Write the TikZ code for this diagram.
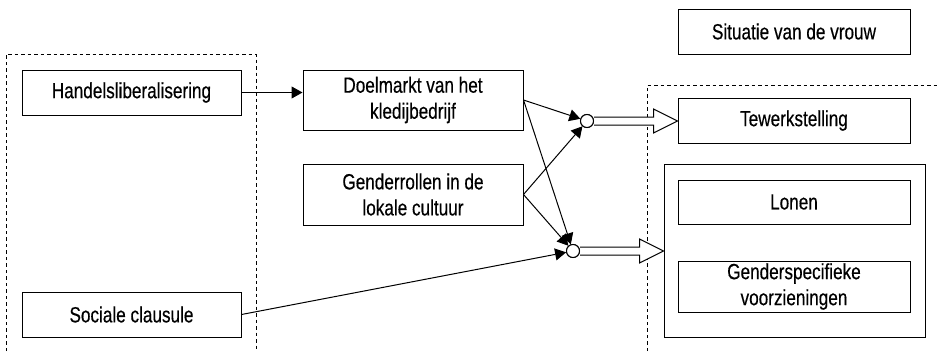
\documentclass[tikz,border=0pt]{standalone}
\usepackage{fontspec}
\setmainfont{Liberation Sans}[FakeStretch=0.78,FakeBold=0.4]
\usetikzlibrary{arrows.meta,calc}

\newcommand{\dubbelpijl}[2]{%
  \draw[line width=1pt,fill=white] let \p1=(#1.east), \p2=(#2) in
    (\x1,\y1+4pt) -- (\x2-24pt,\y1+4pt) -- (\x2-24pt,\y1+12pt) -- (\x2,\y1)
    -- (\x2-24pt,\y1-12pt) -- (\x2-24pt,\y1-4pt) -- (\x1,\y1-4pt);}

\begin{document}
\begin{tikzpicture}[x=1pt,y=-1pt,
  box/.style={draw,line width=1pt,align=center,inner sep=0pt,
    font=\fontsize{22}{26}\selectfont},
  knoop/.style={draw,line width=1pt,fill=white,circle,inner sep=0pt,minimum size=13pt},
  pijl/.style={line width=1pt,-{Triangle[length=11pt,width=12pt]}},
  kader/.style={line width=1pt,dash pattern=on 3.5pt off 3pt}]
  \useasboundingbox (0,0) rectangle (940,351);

  \draw[kader] (6,351) -- (6,54) -- (256,54) -- (256,351);
  \draw[kader] (647,351) -- (647,85) -- (940,85);

  \node[box,minimum width=219pt,minimum height=45pt] (handel) at (131.5,92.5) {Handelsliberalisering};
  \node[box,minimum width=219pt,minimum height=45pt] (sociaal) at (131.5,314.5) {Sociale clausule};
  \node[box,minimum width=220pt,minimum height=60pt] (doel) at (413,100) {Doelmarkt van het\\kledijbedrijf};
  \node[box,minimum width=220pt,minimum height=61pt] (gender) at (413,194.5) {Genderrollen in de\\lokale cultuur};

  \node[box,minimum width=232pt,minimum height=45pt] (situatie) at (794,31.5) {Situatie van de vrouw};
  \node[box,minimum width=232pt,minimum height=45pt] (werk) at (794,120.5) {Tewerkstelling};
  \node[box,minimum width=261pt,minimum height=173pt] (gevolg) at (794.5,250.5) {};
  \node[box,minimum width=232pt,minimum height=44pt] (lonen) at (794,202) {Lonen};
  \node[box,minimum width=232pt,minimum height=51pt] (voorz) at (794,286.5) {Genderspecifieke\\voorzieningen};

  \node[knoop] (k1) at (587,121) {};
  \node[knoop] (k2) at (573,251) {};

  \draw[pijl] (handel.east) -- (handel.east -| doel.west);
  \draw[pijl] (doel.east) -- (k1);
  \draw[pijl] (doel.east) -- (k2);
  \draw[pijl] (gender.east) -- (k1);
  \draw[pijl] (gender.east) -- (k2);
  \draw[pijl] (sociaal.east) -- (k2);

  \dubbelpijl{k1}{werk.west}
  \dubbelpijl{k2}{gevolg.west}
  \node[knoop] at (k1) {};
  \node[knoop] at (k2) {};
\end{tikzpicture}
\end{document}
